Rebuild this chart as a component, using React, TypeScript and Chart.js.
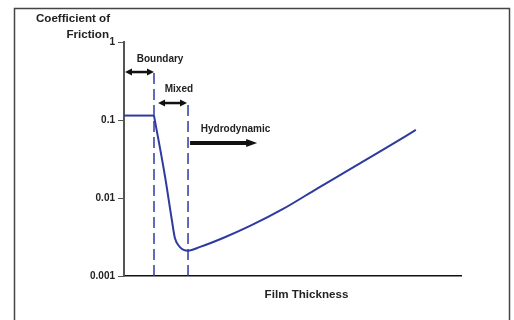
import React, { useEffect, useRef } from "react";
import { Chart, registerables } from "chart.js";

Chart.register(...registerables);

// Film thickness (arbitrary units, 0..100) and coefficient of friction
const boundaryThickness = [0, 8.9];
const boundaryFriction = [0.114, 0.114];
const curveThickness = [8.9, 12.2, 14.2, 15.1, 16.6, 19.0, 22.6, 29.4, 37.4, 47.2, 57.3, 67.1, 76.9, 86.6];
const curveFriction = [0.114, 0.0186, 0.00522, 0.00307, 0.00235, 0.00211, 0.00236, 0.00307, 0.00438, 0.00724, 0.0132, 0.0234, 0.0417, 0.0745];

// Regime boundaries (dashed lines)
const boundaryLimit = [8.9, 0.412];
const mixedLimit = [19.0, 0.18];

const yTickValues = [0.001, 0.01, 0.1, 1];
const yTickLabels = ["0.001", "0.01", "0.1", "1"];

const regimeNames = ["Boundary", "Mixed", "Hydrodynamic"];
const yTitle = ["Coefficient of", "Friction"];
const xTitle = "Film Thickness";

const BLUE = "#2E3A9E";
const FONT = "'Liberation Sans', Arial, sans-serif";

function arrow(ctx: CanvasRenderingContext2D, x1: number, x2: number, y: number, both: boolean, shaft: number, hl: number, hw: number) {
  ctx.save();
  ctx.fillStyle = "#111";
  ctx.strokeStyle = "#111";
  ctx.lineWidth = shaft;
  ctx.beginPath();
  ctx.moveTo(both ? x1 + hl - 1 : x1, y);
  ctx.lineTo(x2 - hl + 1, y);
  ctx.stroke();
  ctx.beginPath();
  ctx.moveTo(x2, y);
  ctx.lineTo(x2 - hl, y - hw / 2);
  ctx.lineTo(x2 - hl, y + hw / 2);
  ctx.closePath();
  ctx.fill();
  if (both) {
    ctx.beginPath();
    ctx.moveTo(x1, y);
    ctx.lineTo(x1 + hl, y - hw / 2);
    ctx.lineTo(x1 + hl, y + hw / 2);
    ctx.closePath();
    ctx.fill();
  }
  ctx.restore();
}

const decorPlugin = {
  id: "decor",
  beforeDraw(chart: any) {
    const ctx = chart.ctx;
    ctx.save();
    ctx.fillStyle = "#fff";
    ctx.fillRect(0, 0, chart.width, chart.height);
    ctx.strokeStyle = "#444";
    ctx.lineWidth = 1.5;
    ctx.strokeRect(14.5, 8.5, 495, 400);
    ctx.restore();
  },
  afterDraw(chart: any) {
    const ctx = chart.ctx;
    const xs = chart.scales.x;
    const ys = chart.scales.y;
    const px = (v: number) => xs.getPixelForValue(v);
    const py = (v: number) => ys.getPixelForValue(v);
    ctx.save();
    ctx.fillStyle = "#222";
    ctx.textBaseline = "middle";
    ctx.font = `bold 11.6px ${FONT}`;
    ctx.textAlign = "right";
    ctx.fillText(yTitle[0], 110, 19);
    ctx.fillText(yTitle[1], 109, 35);
    ctx.textAlign = "center";
    ctx.fillText(xTitle, (chart.chartArea.left + chart.chartArea.right) / 2 + 14, chart.chartArea.bottom + 19);

    ctx.font = `bold 10px ${FONT}`;
    ctx.fillText(regimeNames[0], px(10.7), py(0.605));
    ctx.fillText(regimeNames[1], px(16.3), py(0.249));
    ctx.fillText(regimeNames[2], px(33.1), py(0.0767));
    ctx.restore();

    arrow(ctx, px(0.3), px(8.9), py(0.412), true, 2.5, 7, 7);
    arrow(ctx, px(10.1), px(18.7), py(0.165), true, 2.5, 7, 7);
    arrow(ctx, px(19.6), px(39.5), py(0.0507), false, 4, 11, 8);
  },
};

export default function App() {
  const ref = useRef<HTMLCanvasElement>(null);
  useEffect(() => {
    if (!ref.current) return;
    const chart = new Chart(ref.current, {
      type: "scatter",
      data: {
        datasets: [
          {
            data: boundaryThickness.map((x, i) => ({ x, y: boundaryFriction[i] })),
            showLine: true,
            borderColor: BLUE,
            borderWidth: 2,
            pointRadius: 0,
            tension: 0,
          },
          {
            data: curveThickness.map((x, i) => ({ x, y: curveFriction[i] })),
            showLine: true,
            borderColor: BLUE,
            borderWidth: 2,
            pointRadius: 0,
            cubicInterpolationMode: "monotone",
          },
          {
            data: [
              { x: boundaryLimit[0], y: 0.001 },
              { x: boundaryLimit[0], y: boundaryLimit[1] },
            ],
            showLine: true,
            borderColor: BLUE,
            borderWidth: 1.5,
            borderDash: [11, 5],
            pointRadius: 0,
          },
          {
            data: [
              { x: mixedLimit[0], y: 0.001 },
              { x: mixedLimit[0], y: mixedLimit[1] },
            ],
            showLine: true,
            borderColor: BLUE,
            borderWidth: 1.5,
            borderDash: [11, 5],
            pointRadius: 0,
          },
        ],
      },
      options: {
        animation: false,
        responsive: false,
        events: [],
        layout: { padding: { top: 42, right: 53, left: 0, bottom: 0 } },
        plugins: { legend: { display: false }, tooltip: { enabled: false } },
        scales: {
          x: {
            type: "linear",
            min: 0,
            max: 100,
            ticks: { display: false },
            grid: { display: true, drawOnChartArea: false, drawTicks: false },
            border: { display: true, color: "#111", width: 1.5 },
            afterFit: (s: any) => {
              s.height = 44;
            },
          },
          y: {
            type: "logarithmic",
            min: 0.001,
            max: 1,
            afterBuildTicks: (s: any) => {
              s.ticks = yTickValues.map((value) => ({ value }));
            },
            ticks: {
              color: "#222",
              font: { family: FONT, size: 10, weight: "bold" },
              padding: 3,
              callback: (v: any) => {
                const i = yTickValues.findIndex((t) => Math.abs(t - v) < t * 1e-6);
                return i >= 0 ? yTickLabels[i] : "";
              },
            },
            grid: { display: true, drawOnChartArea: false, drawTicks: true, tickLength: 6, color: "#555" },
            border: { display: true, color: "#555", width: 2 },
            afterFit: (s: any) => {
              s.width = 124;
            },
          },
        },
      },
      plugins: [decorPlugin],
    } as any);
    return () => chart.destroy();
  }, []);
  return (
    <div style={{ position: "absolute", left: 0, top: 0, width: 514, height: 320 }}>
      <canvas ref={ref} width={514} height={320} />
    </div>
  );
}
